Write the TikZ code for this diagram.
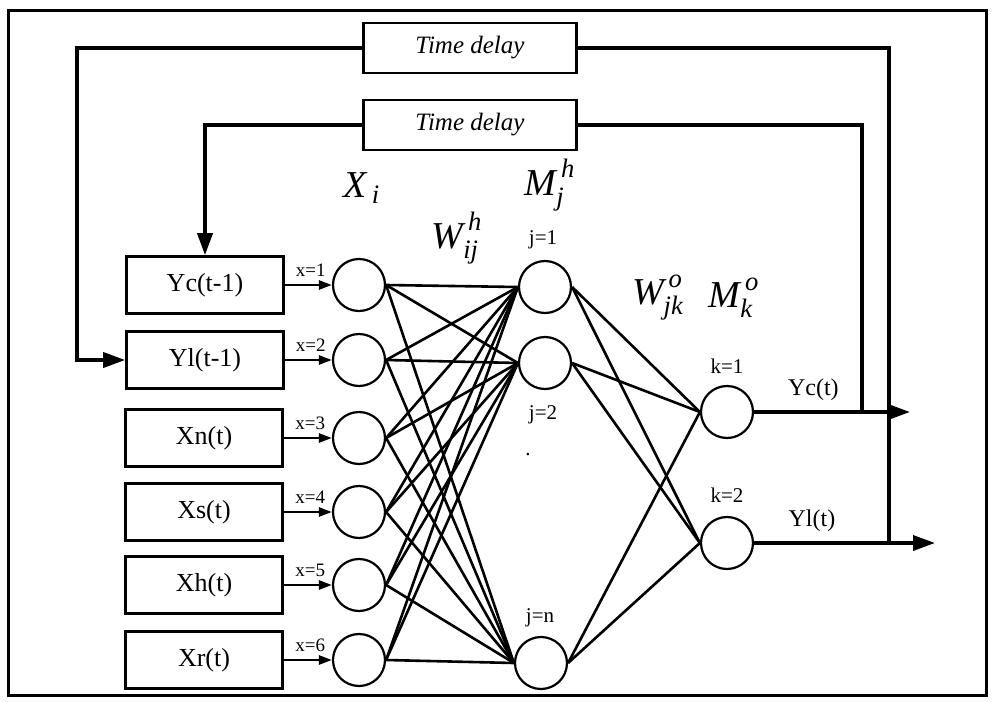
\documentclass[tikz,border=0pt]{standalone}
\usepackage{fontspec}
\setmainfont{Liberation Serif}
\usetikzlibrary{arrows.meta}

\newcommand{\lowsub}[1]{\mathit{#1}\vphantom{\mathit{h}}}
\newcommand{\highsup}[1]{\,\mathit{#1}\vphantom{\mathit{j}}}

\begin{document}
\begin{tikzpicture}[x=0.5pt,y=-0.5pt,
	inbox/.style={draw,line width=1.3pt,minimum width=78.5pt,minimum height=28.5pt,inner sep=0pt,font=\fontsize{13}{15}\selectfont},
	delaybox/.style={draw,line width=1.3pt,minimum width=106.5pt,minimum height=25pt,inner sep=0pt,font=\fontsize{12.5}{14}\selectfont\itshape},
	neuron/.style={draw,circle,line width=1.1pt,minimum size=26pt,inner sep=0pt},
	small/.style={font=\fontsize{9.5}{11}\selectfont,inner sep=0pt},
	idx/.style={font=\fontsize{10.5}{12}\selectfont,inner sep=0pt},
	outlab/.style={font=\fontsize{12}{14}\selectfont,inner sep=0pt},
	sym/.style={font=\fontsize{19}{22}\selectfont,inner sep=0pt},
	wire/.style={line width=1.3pt},
	fb/.style={line width=1.8pt},
	tip/.style={-{Triangle[length=6.5pt,width=4.5pt]}},
	bigtip/.style={-{Triangle[length=11pt,width=7.5pt]}}]

	\useasboundingbox (0,0) rectangle (992,702);
	\draw[line width=1.5pt] (8,10) rectangle (986,695);

	\node[delaybox] (td1) at (470,48) {Time delay};
	\node[delaybox] (td2) at (470,125) {Time delay};

	\node[inbox] (in1) at (205,285) {Yc(t-1)};
	\node[inbox] (in2) at (205,360) {Yl(t-1)};
	\node[inbox] (in3) at (204,438) {Xn(t)};
	\node[inbox] (in4) at (204,512) {Xs(t)};
	\node[inbox] (in5) at (204,585) {Xh(t)};
	\node[inbox] (in6) at (204,660) {Xr(t)};

	\foreach \n/\y in {1/285,2/360,3/438,4/512,5/585,6/660}
		\node[neuron] (x\n) at (359,\y) {};

	\node[neuron] (h1) at (545,287) {};
	\node[neuron] (h2) at (545,363) {};
	\node[neuron] (hn) at (541,663) {};

	\node[neuron] (o1) at (727,412) {};
	\node[neuron] (o2) at (727,543) {};

	\node[sym] (xi) at (362,188) {$\mathit{X}_{\,\lowsub{i}}$};
	\node[sym] (mjh) at (550,185) {$\mathit{M}_{\lowsub{j}}^{\highsup{h}}$};
	\node[sym] (wijh) at (457,238) {$\mathit{W}_{\lowsub{ij}}^{\highsup{h}}$};
	\node[sym] (wjko) at (658,295) {$\mathit{W}_{\lowsub{jk}}^{\highsup{o}}$};
	\node[sym] (mko) at (734,295) {$\mathit{M}_{\lowsub{k}}^{\highsup{o}}$};

	\node[idx] (lj1) at (543,240) {j=1};
	\node[idx] (lj2) at (543,415) {j=2};
	\node[idx] (ljn) at (540,618) {j=n};
	\node[idx] (dots) at (528,455) {.};
	\node[idx] (lk1) at (727,366) {k=1};
	\node[idx] (lk2) at (727,495) {k=2};

	\foreach \n in {1,...,6}
		\draw[wire,tip] (in\n.east) -- (x\n.west) node[small,pos=0.55,above=3.5pt] {x=\n};

	\foreach \i in {1,...,6}
		\foreach \j in {1,2,n}
			\draw[wire] (x\i.east) -- (h\j.west);
	\foreach \j in {1,2,n}
		\foreach \k in {1,2}
			\draw[wire] (h\j.east) -- (o\k.west);

	\coordinate (ycend) at (910,412);
	\coordinate (ylend) at (935,543);
	\coordinate (ycsplit) at (862,412);
	\coordinate (ylsplit) at (889,543);
	\coordinate (outerleft) at (77,48);

	\draw[fb,bigtip] (o1.east) -- (ycend) node[outlab,pos=0.38,above=5pt] {Yc(t)};
	\draw[fb,bigtip] (o2.east) -- (ylend) node[outlab,pos=0.32,above=5pt] {Yl(t)};

	\draw[fb] (ycsplit) |- (td2.east);
	\draw[fb,bigtip] (td2.west) -| (in1.north);
	\draw[fb] (ylsplit) |- (td1.east);
	\draw[fb,bigtip] (td1.west) -- (outerleft) |- (in2.west);
\end{tikzpicture}
\end{document}
